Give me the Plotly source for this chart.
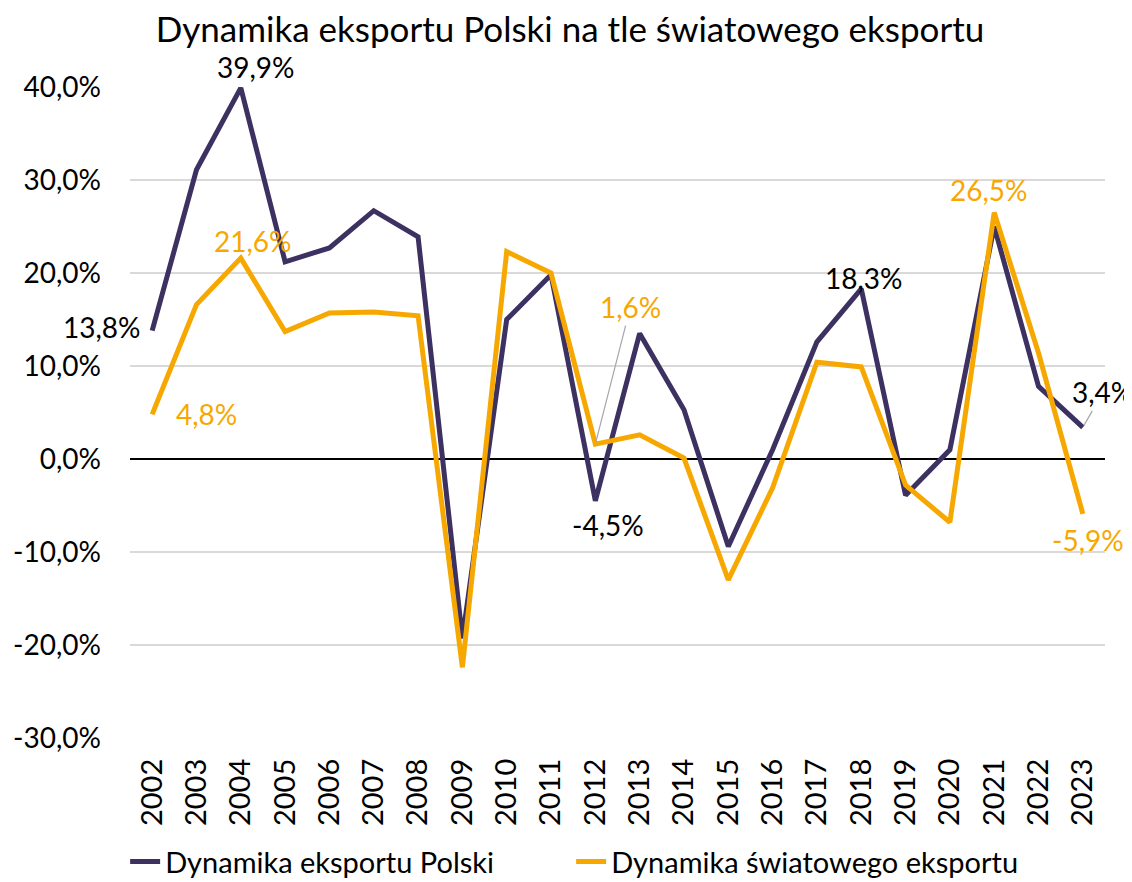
import plotly.graph_objects as go

years = list(range(2002, 2024))
poland = [13.8, 31.1, 39.9, 21.2, 22.7, 26.7, 23.9, -19.3, 15.0, 19.8, -4.5,
          13.5, 5.3, -9.4, 1.0, 12.6, 18.3, -3.9, 1.0, 25.0, 7.8, 3.4]
world = [4.8, 16.6, 21.6, 13.7, 15.7, 15.8, 15.4, -22.4, 22.3, 20.0, 1.6,
         2.6, 0.1, -13.0, -3.1, 10.4, 9.9, -2.8, -6.8, 26.5, 11.4, -5.9]
y_ticks = [-30, -20, -10, 0, 10, 20, 30, 40]

PURPLE = "#3C3160"
ORANGE = "#F7A800"
FONT = "Lato"


def fmt(v):
    return f"{v:.1f}".replace(".", ",") + "%"


fig = go.Figure()
fig.add_trace(go.Scatter(x=years, y=poland, mode="lines", name="Dynamika eksportu Polski",
                         line=dict(color=PURPLE, width=5)))
fig.add_trace(go.Scatter(x=years, y=world, mode="lines", name="Dynamika światowego eksportu",
                         line=dict(color=ORANGE, width=5)))

# (series, index, color, xshift, yshift, arrow)
labels = [
    (poland, 0, "black", -50, 4, None),
    (world, 0, ORANGE, 54, 0, None),
    (world, 2, ORANGE, 12, 17, None),
    (poland, 2, "black", 15, 21, None),
    (poland, 10, "black", 13, -24, None),
    (world, 10, ORANGE, 0, 0, (35, -137)),
    (poland, 16, "black", 3, 11, None),
    (world, 19, ORANGE, -5, 23, None),
    (poland, 21, "black", 0, 0, (20, -35)),
    (world, 21, ORANGE, 5, -26, None),
]
for series, i, col, xs, ys, arr in labels:
    v = series[i]
    if arr is None:
        fig.add_annotation(x=years[i], y=v, text=fmt(v), showarrow=False,
                           xshift=xs, yshift=ys, font=dict(color=col, size=28, family=FONT))
    else:
        fig.add_annotation(x=years[i], y=v, text=fmt(v), showarrow=True, arrowhead=0,
                           arrowwidth=1.2, arrowcolor="#A6A6A6", ax=arr[0], ay=arr[1],
                           standoff=2, font=dict(color=col, size=28, family=FONT))

fig.update_layout(
    width=1124, height=874,
    paper_bgcolor="white", plot_bgcolor="white",
    margin=dict(l=122, r=27, t=79, b=144, autoexpand=False),
    title=dict(text="Dynamika eksportu Polski na tle światowego eksportu",
               x=0.5, xanchor="center", y=0.975, yanchor="middle",
               font=dict(size=35, color="black", family=FONT)),
    font=dict(family=FONT, color="black"),
    legend=dict(orientation="h", x=-0.005, xanchor="left", y=-0.19, yanchor="middle",
                font=dict(size=29, color="black", family=FONT),
                entrywidth=401, entrywidthmode="pixels"),
    showlegend=True,
)
fig.update_xaxes(range=[2001.5, 2023.5], tickvals=years, ticktext=[str(y) for y in years],
                 tickangle=-90, tickfont=dict(size=29, family=FONT),
                 showgrid=False, showline=False, zeroline=False, ticks="", ticklabelstandoff=14)
fig.update_yaxes(range=[-30, 40], tickvals=y_ticks, ticktext=[fmt(v) for v in y_ticks],
                 tickfont=dict(size=28, family=FONT), showgrid=True, gridcolor="#D9D9D9",
                 gridwidth=1.5, zeroline=True, zerolinecolor="black", zerolinewidth=1.5,
                 showline=False, ticklabelstandoff=28)

fig.write_html("out.html")
